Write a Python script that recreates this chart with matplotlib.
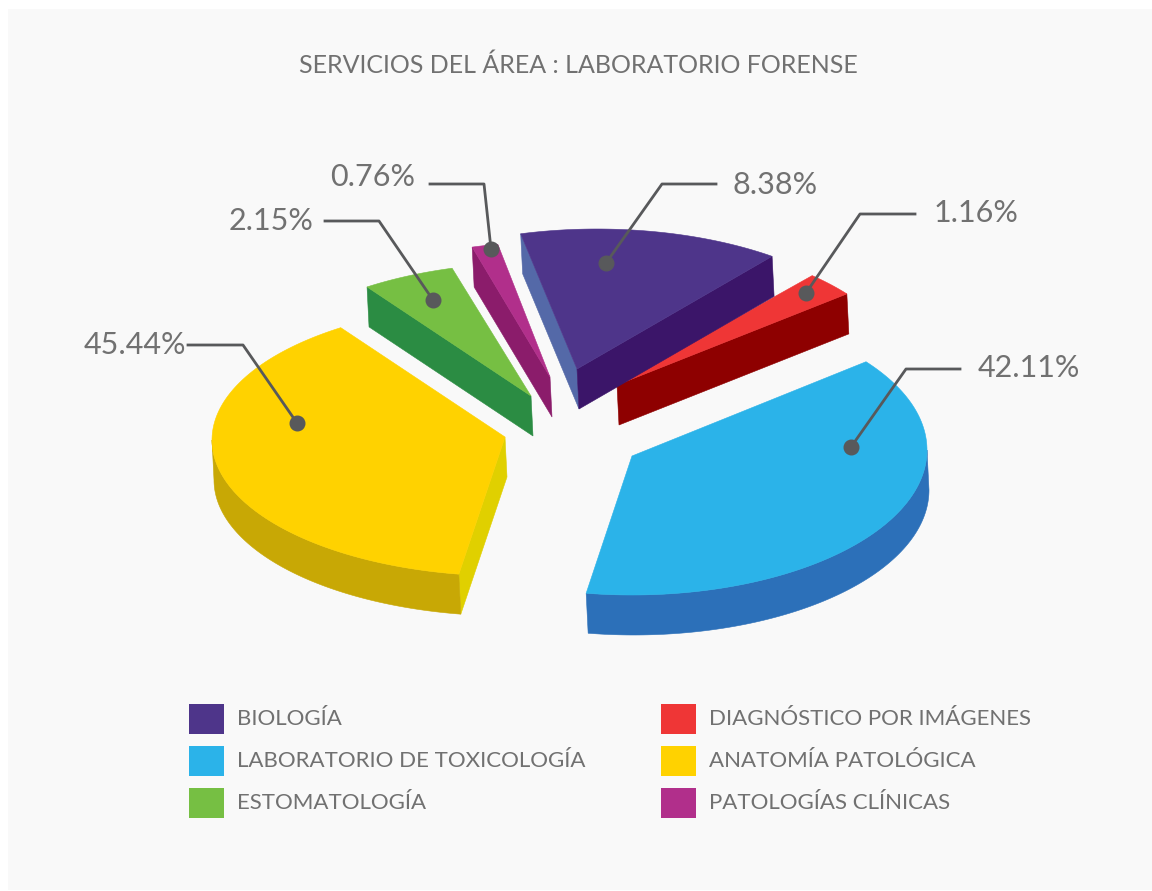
import numpy as np
import matplotlib
matplotlib.use("Agg")
import matplotlib.pyplot as plt
from matplotlib.patches import Rectangle

title = "SERVICIOS DEL ÁREA : LABORATORIO FORENSE"
categories = ["BIOLOGÍA", "DIAGNÓSTICO POR IMÁGENES", "LABORATORIO DE TOXICOLOGÍA",
              "ANATOMÍA PATOLÓGICA", "ESTOMATOLOGÍA", "PATOLOGÍAS CLÍNICAS"]
# printed labels
label_pct = [8.38, 1.16, 42.11, 45.44, 2.15, 0.76]
# the slices are not drawn to the printed numbers, these are the shares read off the picture
drawn_share = [14.28, 2.8, 37.9, 37.86, 5.08, 1.42]

top_colors = ["#4e358a", "#ef3636", "#2bb3e9", "#ffd200", "#76bf43", "#b12f8b"]
wall_colors = ["#3b1569", "#8e0000", "#2c70b9", "#c8a805", "#2b8c43", "#8b1c6b"]
start_cut_colors = ["#5469a8", None, None, "#e0d000", "#2b8c43", "#8b1c6b"]
end_cut_colors = ["#3b1569", "#8e0000", None, None, None, None]

# pie layout, in pixels
center = (560, 415)
radius = 295
depth = (2, 40)
start_angles = [-105, -47, -37.5, 99.4, 236, 254.5]
explode_x = [17, 57, 72, -55, -29, -10]
explode_y = [-46, -30, 41, 22, -19, -38]
# the outer rim of each slice sits a bit off its tip, the view has some perspective
rim_dx = [20, -6, 0, 2, 1, 1]
rim_dy = [0, -7, -6, 3, 7, 5]
rim_height = [140, 140, 145, 136, 140, 140]
draw_order = [1, 0, 5, 4, 3, 2]

# leader lines: dot, elbow, end, then label x, y, alignment
leaders = [
    ((606, 263), (662, 184), (716, 184), 733, 185, "left"),
    ((806, 293), (860, 214), (915, 214), 934, 213, "left"),
    ((851, 447), (906, 369), (960, 369), 978, 368, "left"),
    ((297, 423), (243, 345), (188, 345), 186, 345, "right"),
    ((433, 300), (379, 221), (325, 221), 314, 221, "right"),
    ((491, 249), (484, 184), (430, 184), 415, 177, "right"),
]

text_color = "#717171"
plt.rcParams["font.family"] = ["Lato", "DejaVu Sans"]

fig = plt.figure(figsize=(11.52, 8.91), dpi=100, facecolor="white")
ax = fig.add_axes([0, 0, 1, 1])
ax.set_xlim(0, 1152)
ax.set_ylim(891, 0)
ax.axis("off")
ax.add_patch(Rectangle((8, 9), 1144, 881, facecolor="#f9f9f9", edgecolor="none"))


def arc(i, tip, a0, a1):
    angles = np.radians(np.linspace(a0, a1, 120))
    return (tip[0] + rim_dx[i] + radius*np.cos(angles),
            tip[1] + rim_dy[i] + rim_height[i]*np.sin(angles))


def extrude(xs, ys, color):
    px = np.concatenate([xs, xs[::-1] + depth[0]])
    py = np.concatenate([ys, ys[::-1] + depth[1]])
    ax.fill(px, py, color=color, lw=0.4)


for i in draw_order:
    a0 = start_angles[i]
    a1 = a0 + 3.6*drawn_share[i]
    tip = (center[0] + explode_x[i], center[1] + explode_y[i])
    for color, a in ((start_cut_colors[i], a0), (end_cut_colors[i], a1)):
        if color:
            ex, ey = arc(i, tip, a, a)
            extrude(np.array([tip[0], ex[0]]), np.array([tip[1], ey[0]]), color)
    lo, hi = max(a0, 0), min(a1, 180)
    if lo < hi:
        extrude(*arc(i, tip, lo, hi), wall_colors[i])
    xs, ys = arc(i, tip, a0, a1)
    ax.fill(np.r_[tip[0], xs], np.r_[tip[1], ys], color=top_colors[i], lw=0.4)

for pct, (dot, elbow, end, tx, ty, ha) in zip(label_pct, leaders):
    ax.plot([dot[0], elbow[0], end[0]], [dot[1], elbow[1], end[1]], color="#58595b", lw=2)
    ax.plot(*dot, "o", color="#58595b", ms=10.5)
    ax.text(tx, ty, "{:.2f}%".format(pct), ha=ha, va="center", fontsize=22, color=text_color)

ax.text(578, 65, title, ha="center", va="center", fontsize=18, color=text_color)

legend_x = [189, 661]
legend_y = [704, 746, 788]
for i, name in enumerate(categories):
    x = legend_x[i % 2]
    y = legend_y[i // 2]
    ax.add_patch(Rectangle((x, y), 35, 29.5, facecolor=top_colors[i], edgecolor="none"))
    ax.text(x + 48, y + 15, name, ha="left", va="center", fontsize=16, color=text_color)

fig.savefig("out.png", dpi=100, facecolor="white")
